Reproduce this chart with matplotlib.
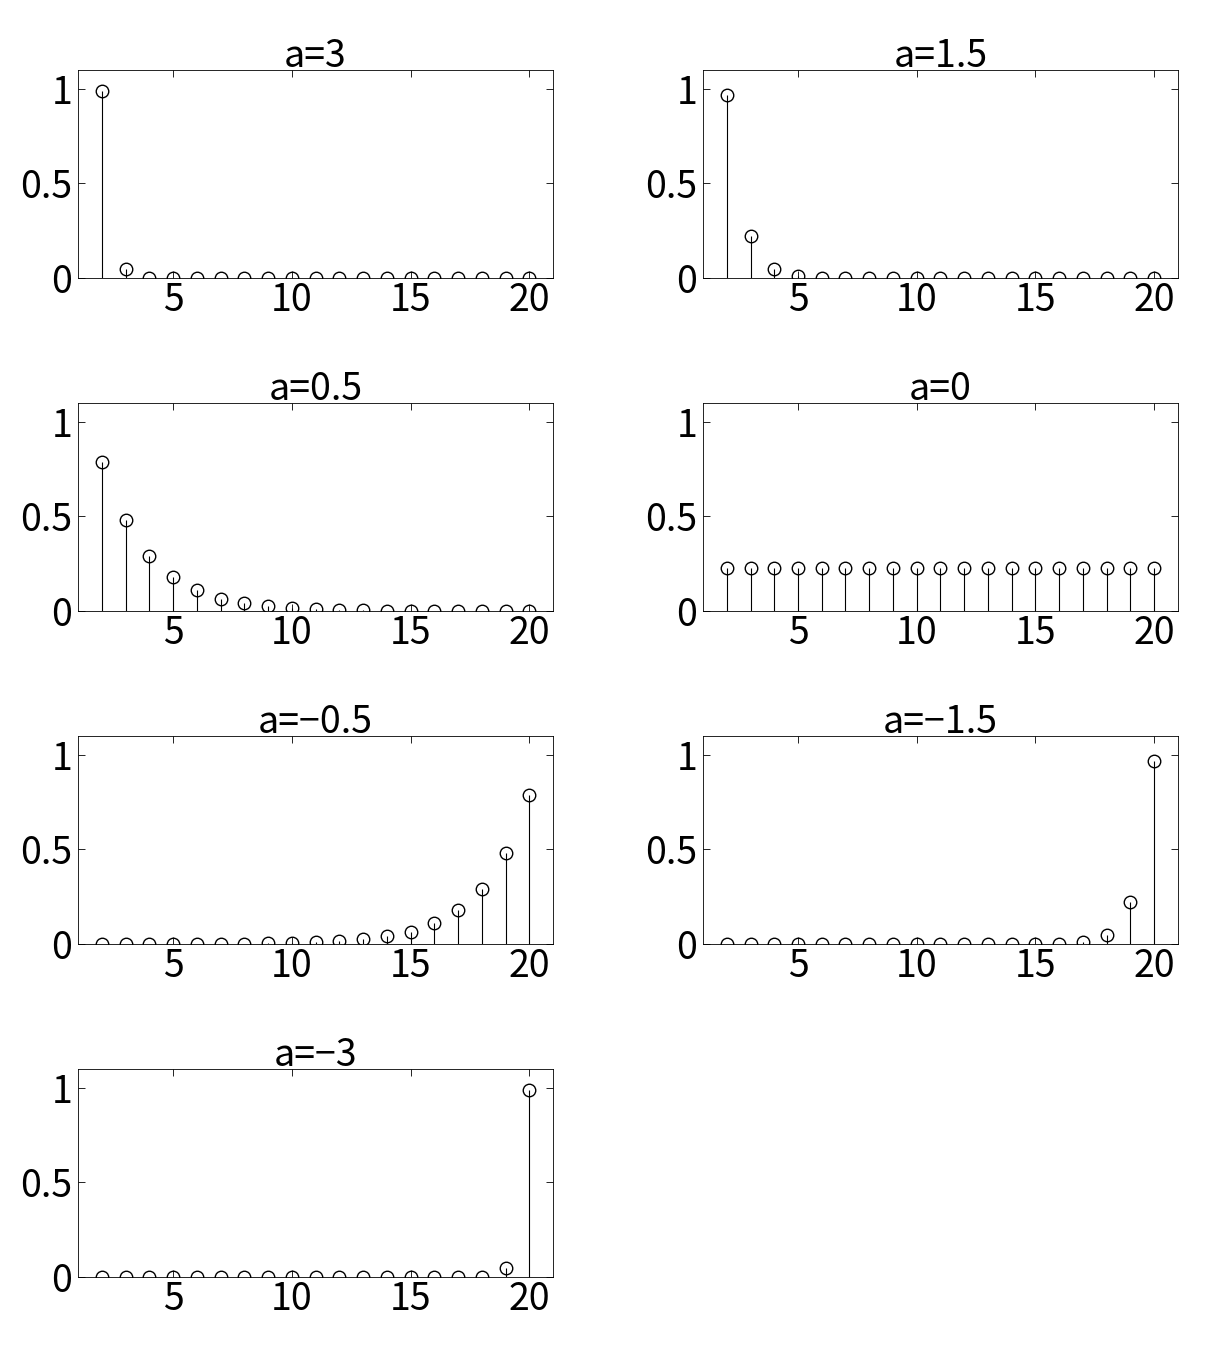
import matplotlib
matplotlib.use('Agg')
import matplotlib.pyplot as plt
import numpy as np

n = np.arange(2, 21)
titles = ['a=3', 'a=1.5', 'a=0.5', 'a=0', 'a=\u22120.5', 'a=\u22121.5', 'a=\u22123']

v_a3 = [0.99, 0.05] + [0.0] * 17
v_a15 = [0.97, 0.22, 0.05, 0.01] + [0.0] * 15
v_a05 = [0.79, 0.48, 0.29, 0.18, 0.11, 0.065, 0.04, 0.024, 0.015, 0.009,
         0.005, 0.003, 0.002, 0.001, 0.0, 0.0, 0.0, 0.0, 0.0]
v_a0 = [0.23] * 19
v_am05 = v_a05[::-1]
v_am15 = v_a15[::-1]
v_am3 = v_a3[::-1]
series = [v_a3, v_a15, v_a05, v_a0, v_am05, v_am15, v_am3]

plt.rcParams['font.family'] = ['Noto Sans CJK JP', 'DejaVu Sans']
fig = plt.figure(figsize=(12.07, 13.45), dpi=100)
W, H = 1207, 1345
lefts = [78, 703]
tops = [70, 403, 736, 1069]
for i, (t, v) in enumerate(zip(titles, series)):
    l = lefts[i % 2]
    top = tops[i // 2]
    ax = fig.add_axes([l / W, 1 - 278 / H - (top - 70) / H, 475 / W, 208 / H])
    ax.vlines(n, 0, v, color='black', linewidth=0.8)
    ax.plot(n, v, 'o', mfc='none', mec='black', ms=9, mew=1.0)
    ax.set_xlim(1, 21)
    ax.set_ylim(0, 1.1)
    ax.set_xticks([5, 10, 15, 20])
    ax.set_yticks([0, 0.5, 1])
    ax.set_yticklabels(['0', '0.5', '1'])
    ax.tick_params(direction='in', labelsize=27, top=True, right=True, length=5, width=0.6, pad=4)
    ax.tick_params(axis='x', pad=2)
    for s in ax.spines.values():
        s.set_linewidth(0.6)
    ax.set_title(t, fontsize=27, pad=2)

plt.savefig('out.png')
